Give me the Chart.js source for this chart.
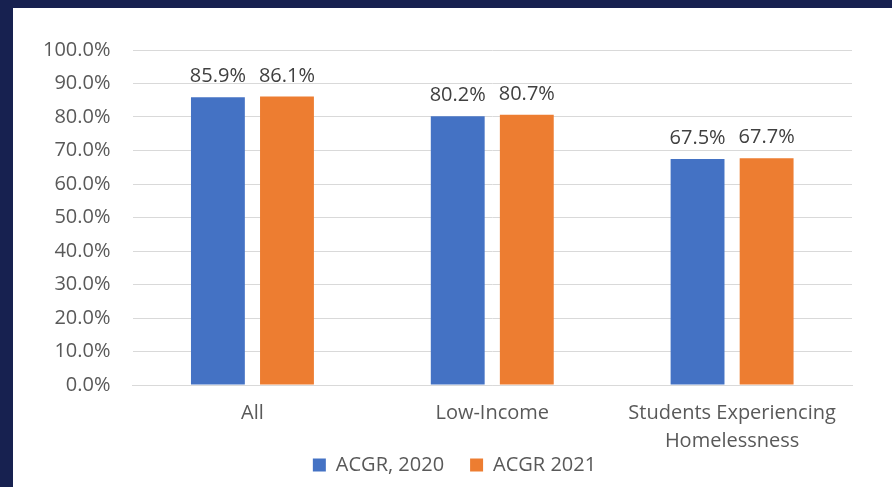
<!DOCTYPE html>
<html>
<head>
<meta charset="utf-8">
<script src="https://cdn.jsdelivr.net/npm/chart.js@4.4.1/dist/chart.umd.min.js"></script>
<style>
  html, body { margin: 0; padding: 0; background: #172150; }
  body { width: 892px; height: 487px; overflow: hidden; }
  .frame { position: absolute; left: 13px; top: 8px; width: 879px; height: 479px; background: #fff; }
</style>
</head>
<body>
<div class="frame"><canvas id="acgrChart"></canvas></div>
<script>
const categories = ['All', 'Low-Income', ['Students Experiencing', 'Homelessness']];
const acgr2020 = [85.9, 80.2, 67.5];
const acgr2021 = [86.1, 80.7, 67.7];
const yTicks = [0, 10, 20, 30, 40, 50, 60, 70, 80, 90, 100];

Chart.defaults.font.family = '"Open Sans", "Noto Sans", sans-serif';
Chart.defaults.font.size = 20;
Chart.defaults.color = '#595959';

// draws the value above each bar
const valueLabels = {
    id: 'valueLabels',
    afterDatasetsDraw(chart) {
        const ctx = chart.ctx;
        ctx.save();
        ctx.font = '20px "Open Sans", "Noto Sans", sans-serif';
        ctx.fillStyle = '#404040';
        ctx.textAlign = 'center';
        ctx.textBaseline = 'alphabetic';
        chart.data.datasets.forEach((ds, i) => {
            chart.getDatasetMeta(i).data.forEach((bar, j) => {
                ctx.fillText(ds.data[j].toFixed(1) + '%', bar.x, bar.y - 15);
            });
        });
        ctx.restore();
    }
};

// nudge the legend a little to the right, like the original
const legendShift = {
    id: 'legendShift',
    afterLayout(chart) {
        if (chart.legend) {
            chart.legend.left += 18;
            chart.legend.right += 18;
        }
    }
};

const ctx = document.getElementById('acgrChart').getContext('2d');
const acgrChart = new Chart(ctx, {
    type: 'bar',
    data: {
        labels: categories,
        datasets: [{
            label: 'ACGR, 2020',
            data: acgr2020,
            backgroundColor: '#4472c4',
            categoryPercentage: 0.576,
            barPercentage: 0.78
        }, {
            label: 'ACGR 2021',
            data: acgr2021,
            backgroundColor: '#ed7d31',
            categoryPercentage: 0.576,
            barPercentage: 0.78
        }]
    },
    options: {
        responsive: true,
        maintainAspectRatio: false,
        animation: false,
        layout: { padding: { left: 8, right: 40, top: 42, bottom: 8 } },
        plugins: {
            tooltip: { enabled: false },
            legend: {
                position: 'bottom',
                maxHeight: 50,
                labels: {
                    boxWidth: 13,
                    boxHeight: 13,
                    padding: 26,
                    color: '#595959',
                    font: { size: 20 }
                }
            }
        },
        scales: {
            x: {
                grid: { display: false },
                border: { color: '#d9d9d9', width: 1 },
                ticks: { padding: 6, maxRotation: 0, autoSkip: false, font: { size: 20, lineHeight: 1.4 } },
                afterFit(scale) {
                    // keep the axis short so the legend sits close, and let the second label line overflow
                    scale.height = 44;
                    scale._computeLabelArea = () => undefined;
                }
            },
            y: {
                min: 0,
                max: 100,
                afterBuildTicks(axis) {
                    axis.ticks = yTicks.map(v => ({ value: v }));
                },
                grid: { color: '#d9d9d9', drawTicks: false },
                border: { display: false },
                ticks: {
                    padding: 22,
                    callback: v => v.toFixed(1) + '%'
                }
            }
        }
    },
    plugins: [valueLabels, legendShift]
});
</script>
</body>
</html>
